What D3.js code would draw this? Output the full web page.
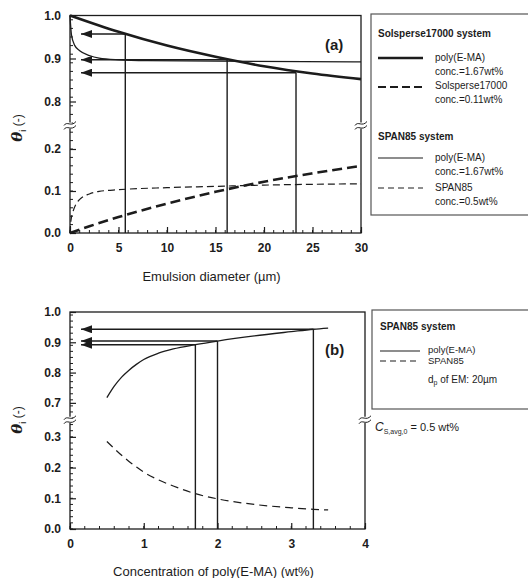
<!DOCTYPE html>
<html>
<head>
<meta charset="utf-8">
<script src="https://cdn.jsdelivr.net/npm/d3@7"></script>
<style>
	body { margin: 0; background: #fff; }
	svg { display: block; }
	text { font-family: Arial, "Liberation Sans", sans-serif; fill: #1c1c1c; }
</style>
</head>
<body>
<script>
// ---- data ----
// panel (a): theta_i vs emulsion diameter (um)
const diamTicks = [0, 5, 10, 15, 20, 25, 30];
const solPolyD = [0, 5, 10, 15, 20, 25, 30];
const solPolyTheta = [1.0, 0.962, 0.93, 0.904, 0.882, 0.865, 0.852];
const solDispD = [0, 2, 5, 10, 15, 20, 25, 30];
const solDispTheta = [0, 0.016, 0.038, 0.07, 0.098, 0.122, 0.142, 0.16];
const spanPolyD = [0, 0.15, 0.5, 1, 2, 3, 5, 8, 15, 30];
const spanPolyTheta = [1.0, 0.955, 0.93, 0.918, 0.907, 0.901, 0.897, 0.895, 0.894, 0.892];
const spanDispD = [0, 0.1, 0.3, 0.6, 1, 2, 3, 5, 10, 15, 20, 25, 30];
const spanDispTheta = [0, 0.03, 0.05, 0.068, 0.08, 0.093, 0.099, 0.103, 0.108, 0.111, 0.114, 0.116, 0.117];
const readD = [5.7, 16.2, 23.3];
const readThetaA = [0.957, 0.897, 0.867];
const thetaTicksUpA = [0.8, 0.9, 1.0];
const thetaTicksLoA = [0.0, 0.1, 0.2];

// panel (b): theta_i vs concentration of poly(E-MA) (wt%)
const concTicks = [0, 1, 2, 3, 4];
const conc = [0.5, 0.6, 0.7, 0.8, 0.9, 1.0, 1.2, 1.4, 1.7, 2.0, 2.5, 3.0, 3.3, 3.5];
const polyTheta = [0.717, 0.755, 0.785, 0.808, 0.827, 0.843, 0.864, 0.878, 0.892, 0.904, 0.921, 0.935, 0.943, 0.947];
const spanTheta = [0.285, 0.262, 0.24, 0.22, 0.202, 0.185, 0.16, 0.14, 0.115, 0.098, 0.08, 0.069, 0.064, 0.062];
const readC = [1.7, 2.0, 3.3];
const readThetaB = [0.892, 0.904, 0.943];
const thetaTicksUpB = [0.7, 0.8, 0.9, 1.0];
const thetaTicksLoB = [0.0, 0.1, 0.2, 0.3];

const ink = "#1c1c1c";
const svg = d3.select("body").append("svg").attr("width", 528).attr("height", 578);

// filled arrow head, tip at the end of the line
svg.append("defs").append("marker")
	.attr("id", "arrow")
	.attr("viewBox", "0 0 11 8")
	.attr("refX", 11).attr("refY", 4)
	.attr("markerWidth", 11).attr("markerHeight", 8)
	.attr("markerUnits", "userSpaceOnUse")
	.attr("orient", "auto")
	.append("path").attr("d", "M0,0 L11,4 L0,8 Z").attr("fill", ink);

function zip(xs, ys) { return xs.map((x, i) => [x, ys[i]]); }

// draws one broken-axis panel
function panel(cfg) {
	const g = svg.append("g");
	const x = d3.scaleLinear(cfg.xDomain, [cfg.left, cfg.right]);
	const yUp = d3.scaleLinear(cfg.upDomain, [cfg.breakTop, cfg.top]);
	const yLo = d3.scaleLinear(cfg.loDomain, [cfg.bottom, cfg.breakBot]);
	const y = v => v >= cfg.upDomain[0] ? yUp(v) : yLo(v);

	// frame
	g.append("rect")
		.attr("x", cfg.left).attr("y", cfg.top)
		.attr("width", cfg.right - cfg.left).attr("height", cfg.bottom - cfg.top)
		.attr("fill", "none").attr("stroke", ink).attr("stroke-width", 1.3);

	// minor ticks
	const minor = (sc, step) => d3.range(sc.domain()[0], sc.domain()[1] + 1e-9, step);
	const minorG = g.append("g").attr("stroke", ink).attr("stroke-width", 1);
	minor(yUp, 0.02).forEach(v => {
		minorG.append("line").attr("x1", cfg.left).attr("x2", cfg.left + 3).attr("y1", yUp(v)).attr("y2", yUp(v));
	});
	minor(yLo, 0.02).forEach(v => {
		minorG.append("line").attr("x1", cfg.left).attr("x2", cfg.left + 3).attr("y1", yLo(v)).attr("y2", yLo(v));
	});
	minor(x, cfg.xMinor).forEach(v => {
		minorG.append("line").attr("x1", x(v)).attr("x2", x(v)).attr("y1", cfg.bottom).attr("y2", cfg.bottom - 3);
	});

	// axes
	const styleAxis = sel => {
		sel.select(".domain").remove();
		sel.selectAll(".tick line").attr("stroke", ink).attr("stroke-width", 1.2);
		sel.selectAll(".tick text").attr("font-size", 12).attr("font-weight", "bold").attr("fill", ink);
	};
	g.append("g").attr("transform", `translate(${cfg.left},0)`)
		.call(d3.axisLeft(yUp).tickValues(cfg.upTicks).tickFormat(d3.format(".1f")).tickSizeInner(-6).tickPadding(9))
		.call(styleAxis);
	g.append("g").attr("transform", `translate(${cfg.left},0)`)
		.call(d3.axisLeft(yLo).tickValues(cfg.loTicks).tickFormat(d3.format(".1f")).tickSizeInner(-6).tickPadding(9))
		.call(styleAxis);
	g.append("g").attr("transform", `translate(0,${cfg.bottom})`)
		.call(d3.axisBottom(x).tickValues(cfg.xTicks).tickFormat(d3.format("d")).tickSizeInner(-6).tickPadding(10))
		.call(styleAxis);

	// series
	const line = d3.line().x(d => x(d[0])).y(d => y(d[1])).curve(d3.curveMonotoneX);
	cfg.series.forEach(s => {
		g.append("path").attr("d", line(s.data))
			.attr("fill", "none").attr("stroke", ink)
			.attr("stroke-width", s.width)
			.attr("stroke-dasharray", s.dash || null);
	});

	// read-out lines: vertical from curve to axis, arrow to theta axis
	cfg.reads.forEach(r => {
		g.append("line").attr("x1", x(r[0])).attr("x2", x(r[0]))
			.attr("y1", y(r[1])).attr("y2", cfg.bottom)
			.attr("stroke", ink).attr("stroke-width", 1.4);
		g.append("line").attr("x1", x(r[0])).attr("x2", cfg.left + 11)
			.attr("y1", y(r[1])).attr("y2", y(r[1]))
			.attr("stroke", ink).attr("stroke-width", 1.4)
			.attr("marker-end", "url(#arrow)");
	});

	// break marks on both vertical axes
	const brk = (cfg.breakTop + cfg.breakBot) / 2;
	[cfg.left, cfg.right].forEach(px => {
		g.append("rect").attr("x", px - 2).attr("y", brk - 3).attr("width", 4).attr("height", 6).attr("fill", "#fff");
		[-2, 2].forEach(o => {
			g.append("path")
				.attr("d", `M${px - 6},${brk + o + 2} C${px - 3},${brk + o - 3} ${px + 1},${brk + o + 4} ${px + 6},${brk + o - 2}`)
				.attr("fill", "none").attr("stroke", ink).attr("stroke-width", 1);
		});
	});

	// panel tag
	g.append("text").attr("x", cfg.tag.x).attr("y", cfg.tag.y)
		.attr("font-size", 15).attr("font-weight", "bold").text(cfg.tag.text);

	// x label
	g.append("text").attr("x", (cfg.left + cfg.right) / 2 - 4).attr("y", cfg.xLabelY)
		.attr("text-anchor", "middle").attr("font-size", 13).text(cfg.xLabel);

	// y label theta_i (-)
	const yl = g.append("text")
		.attr("transform", `translate(22,${cfg.yLabelY}) rotate(-90)`)
		.attr("text-anchor", "middle").attr("font-size", 15);
	yl.append("tspan").attr("font-family", "'DejaVu Serif', serif").attr("font-style", "italic").attr("font-weight", "bold").text("θ");
	yl.append("tspan").attr("font-size", 9).attr("dy", 4).text("i");
	yl.append("tspan").attr("font-size", 12).attr("dy", -4).text(" (-)");
	return g;
}

panel({
	xDomain: [0, 30], left: 70, right: 361,
	upDomain: [0.75, 1.0], top: 15.5, breakTop: 123,
	loDomain: [0, 0.25], bottom: 233, breakBot: 128,
	upTicks: thetaTicksUpA, loTicks: thetaTicksLoA, xTicks: diamTicks, xMinor: 1,
	series: [
		{data: zip(solPolyD, solPolyTheta), width: 2.6},
		{data: zip(solDispD, solDispTheta), width: 2.6, dash: "10,5"},
		{data: zip(spanPolyD, spanPolyTheta), width: 1.3},
		{data: zip(spanDispD, spanDispTheta), width: 1.2, dash: "7,4"}
	],
	reads: zip(readD, readThetaA),
	tag: {text: "(a)", x: 325, y: 50},
	xLabel: "Emulsion diameter  (µm)", xLabelY: 281,
	yLabelY: 128
});

panel({
	xDomain: [0, 4], left: 70, right: 365,
	upDomain: [0.65, 1.0], top: 312, breakTop: 418,
	loDomain: [0, 0.35], bottom: 529, breakBot: 421.5,
	upTicks: thetaTicksUpB, loTicks: thetaTicksLoB, xTicks: concTicks, xMinor: 0.2,
	series: [
		{data: zip(conc, polyTheta), width: 1.3},
		{data: zip(conc, spanTheta), width: 1.2, dash: "8,5"}
	],
	reads: zip(readC, readThetaB),
	tag: {text: "(b)", x: 325, y: 355},
	xLabel: "Concentration of poly(E-MA)  (wt%)", xLabelY: 576,
	yLabelY: 420
});

// ---- legends ----
function legendBox(x, y, w, h) {
	svg.append("rect").attr("x", x).attr("y", y).attr("width", w).attr("height", h)
		.attr("fill", "none").attr("stroke", "#555").attr("stroke-width", 1.2);
}
function legLine(x1, x2, y, width, dash) {
	svg.append("line").attr("x1", x1).attr("x2", x2).attr("y1", y).attr("y2", y)
		.attr("stroke", ink).attr("stroke-width", width).attr("stroke-dasharray", dash || null);
}
function legText(x, y, t, bold, size) {
	return svg.append("text").attr("x", x).attr("y", y).attr("font-size", size || 10)
		.attr("font-weight", bold ? "bold" : "normal").attr("dominant-baseline", "middle").text(t);
}

legendBox(371, 14, 160, 201);
legText(378, 34, "Solsperse17000 system", true);
legLine(378, 423, 58, 2.4);
legText(435, 58, "poly(E-MA)");
legText(435, 72, "conc.=1.67wt%");
legLine(378, 423, 87, 2.2, "8,4");
legText(435, 86, "Solsperse17000");
legText(435, 100, "conc.=0.11wt%");
legText(378, 137, "SPAN85 system", true);
legLine(378, 423, 158, 1.2);
legText(435, 158, "poly(E-MA)");
legText(435, 172, "conc.=1.67wt%");
legLine(378, 423, 188, 1.1, "6,4");
legText(435, 188, "SPAN85");
legText(435, 202, "conc.=0.5wt%");

legendBox(372, 310, 160, 99);
legText(380, 327, "SPAN85 system", true);
legLine(380, 420, 351, 1.2);
legText(428, 350.5, "poly(E-MA)", false, 9.5);
legLine(380, 420, 361, 1.1, "6,4");
legText(428, 361.5, "SPAN85", false, 9.5);
const dp = legText(428, 380, "d");
dp.append("tspan").attr("font-size", 7).attr("dy", 3).text("p");
dp.append("tspan").attr("dy", -3).text(" of EM: 20µm");

const cs = svg.append("text").attr("x", 375).attr("y", 431)
	.attr("font-family", "'Liberation Serif', 'Times New Roman', serif").attr("font-size", 11);
cs.append("tspan").attr("font-style", "italic").attr("font-size", 12).text("C");
cs.append("tspan").attr("font-size", 7).attr("dy", 3).text("S,avg,0");
cs.append("tspan").attr("dy", -3).text(" = 0.5 wt%");
</script>
</body>
</html>
